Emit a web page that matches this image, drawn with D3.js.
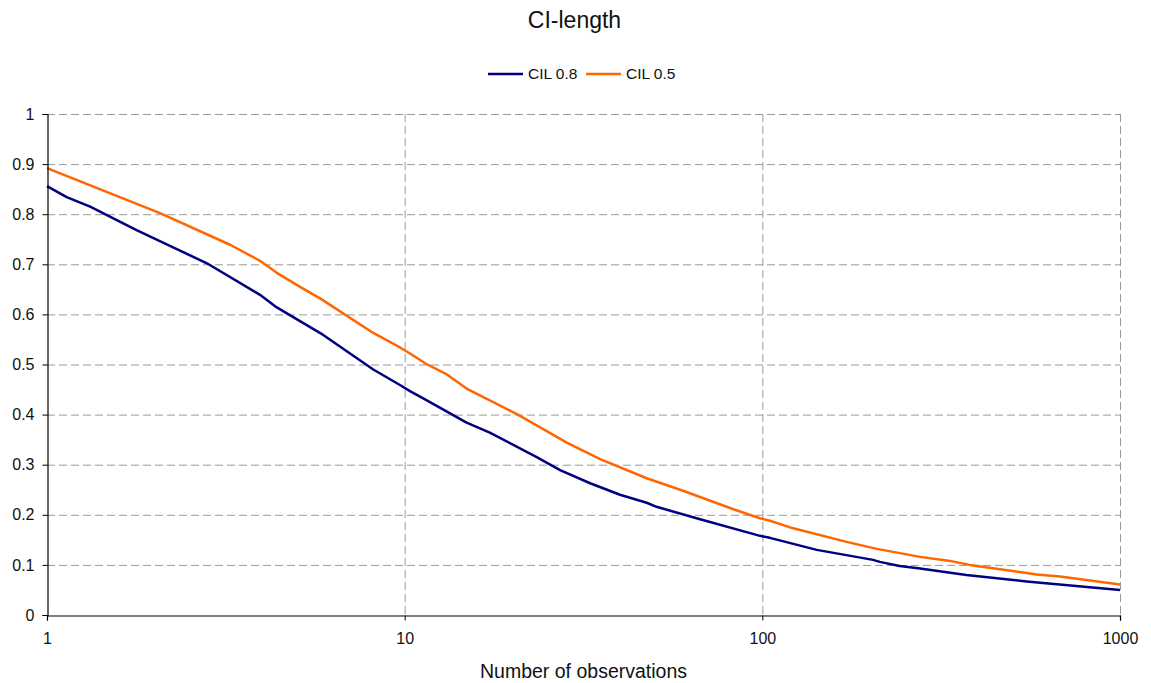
<!DOCTYPE html>
<html>
<head>
<meta charset="utf-8">
<script src="https://cdn.jsdelivr.net/npm/d3@7"></script>
<style>
  html, body { margin: 0; padding: 0; background: #fff; }
  svg { display: block; font-family: "Liberation Sans", Arial, sans-serif; }
</style>
</head>
<body>
<svg id="chart" width="1151" height="683"></svg>
<script>
const title = "CI-length";
const xTitle = "Number of observations";
const seriesNames = ["CIL 0.8", "CIL 0.5"];
const seriesColors = ["#000080", "#FF6600"];
const xTicks = [1, 10, 100, 1000];
const yTicks = [0, 0.1, 0.2, 0.3, 0.4, 0.5, 0.6, 0.7, 0.8, 0.9, 1];

const cil08N = [1, 1.135, 1.32, 1.78, 2.8, 3.94, 4.39, 5.92, 8.17, 9.7, 10.35, 11.5, 14.9, 17.3, 23.4, 27.2, 33, 40, 47.5, 50.6, 67, 98.5, 105, 142, 204, 213, 242, 276, 372, 548, 1000];
const cil08V = [0.856, 0.834, 0.815, 0.768, 0.702, 0.639, 0.614, 0.559, 0.490, 0.459, 0.447, 0.429, 0.384, 0.364, 0.315, 0.289, 0.263, 0.240, 0.224, 0.216, 0.191, 0.158, 0.154, 0.130, 0.110, 0.106, 0.098, 0.093, 0.080, 0.067, 0.050];

const cil05N = [1, 2.07, 3.25, 3.94, 4.39, 5.1, 5.8, 8.17, 9.7, 10.35, 11.5, 13, 14.9, 20.6, 28.4, 35.2, 47.5, 60, 83, 98.5, 105, 122, 172, 209, 276, 335, 380, 585, 680, 1000];
const cil05V = [0.892, 0.802, 0.739, 0.707, 0.683, 0.655, 0.632, 0.563, 0.534, 0.522, 0.501, 0.482, 0.452, 0.401, 0.344, 0.311, 0.273, 0.248, 0.211, 0.193, 0.188, 0.173, 0.146, 0.132, 0.116, 0.108, 0.100, 0.081, 0.077, 0.061];

const series = [
  cil08N.map((n, i) => ({ n, v: cil08V[i] })),
  cil05N.map((n, i) => ({ n, v: cil05V[i] }))
];

(function () {
  const svg = d3.select("#chart");
  const mLeft = 47, mRight = 1120, mTop = 114, mBottom = 615;
  const FONT = "Liberation Sans, Arial, sans-serif";

  const x = d3.scaleLog().domain([1, 1000]).range([mLeft, mRight]);
  const y = d3.scaleLinear().domain([0, 1]).range([mBottom, mTop]);

  // Gridlines
  const grid = svg.append("g");
  grid.selectAll("line.h").data(yTicks.filter(d => d > 0)).join("line")
    .attr("x1", mLeft).attr("x2", mRight)
    .attr("y1", d => y(d) + 0.5).attr("y2", d => y(d) + 0.5)
    .attr("stroke", "#9a9a9a").attr("stroke-width", 1).attr("stroke-dasharray", "8,4");
  grid.selectAll("line.v").data(xTicks.filter(d => d > 1)).join("line")
    .attr("x1", d => x(d) + 0.5).attr("x2", d => x(d) + 0.5)
    .attr("y1", mTop).attr("y2", mBottom)
    .attr("stroke", "#9a9a9a").attr("stroke-width", 1).attr("stroke-dasharray", "8,4");

  // Lines
  const line = d3.line().x(d => x(d.n)).y(d => y(d.v));
  series.forEach((s, i) => {
    svg.append("path").datum(s)
      .attr("d", line)
      .attr("fill", "none")
      .attr("stroke", seriesColors[i])
      .attr("stroke-width", 2.5)
      .attr("stroke-linejoin", "round");
  });

  // Axes
  const yAxis = d3.axisLeft(y).tickValues(yTicks).tickFormat(d3.format("~g")).tickSize(5).tickPadding(8);
  const gy = svg.append("g").attr("transform", `translate(${mLeft + 0.5},0)`).call(yAxis);
  gy.select(".domain").attr("stroke", "#000").attr("stroke-width", 1.2);
  gy.selectAll(".tick line").attr("stroke", "#000");
  gy.selectAll("text").attr("font-size", 16).attr("fill", "#111").attr("font-family", FONT);

  const xAxis = d3.axisBottom(x).tickValues(xTicks).tickFormat(d3.format("d")).tickSize(5).tickPadding(12);
  const gx = svg.append("g").attr("transform", `translate(0,${mBottom + 0.5})`).call(xAxis);
  gx.select(".domain").attr("stroke", "#000").attr("stroke-width", 1.2);
  gx.selectAll(".tick line").attr("stroke", "#000");
  gx.selectAll("text").attr("font-size", 16).attr("fill", "#111").attr("font-family", FONT);

  // Title
  svg.append("text").attr("x", 574.5).attr("y", 28).attr("text-anchor", "middle")
    .attr("font-size", 23).attr("fill", "#111").attr("font-family", FONT).text(title);

  // X title
  svg.append("text").attr("x", 583.5).attr("y", 678).attr("text-anchor", "middle")
    .attr("font-size", 20).attr("fill", "#111").attr("font-family", FONT)
    .attr("textLength", 207).attr("lengthAdjust", "spacingAndGlyphs").text(xTitle);

  // Legend
  const legendItems = [
    { name: seriesNames[0], color: seriesColors[0], x0: 488 },
    { name: seriesNames[1], color: seriesColors[1], x0: 586 }
  ];
  const lg = svg.append("g");
  legendItems.forEach(it => {
    lg.append("line").attr("x1", it.x0).attr("x2", it.x0 + 35).attr("y1", 74).attr("y2", 74)
      .attr("stroke", it.color).attr("stroke-width", 2.5);
    lg.append("text").attr("x", it.x0 + 40).attr("y", 78.5).attr("font-size", 15.5)
      .attr("fill", "#111").attr("font-family", FONT).text(it.name);
  });
})();
</script>
</body>
</html>
